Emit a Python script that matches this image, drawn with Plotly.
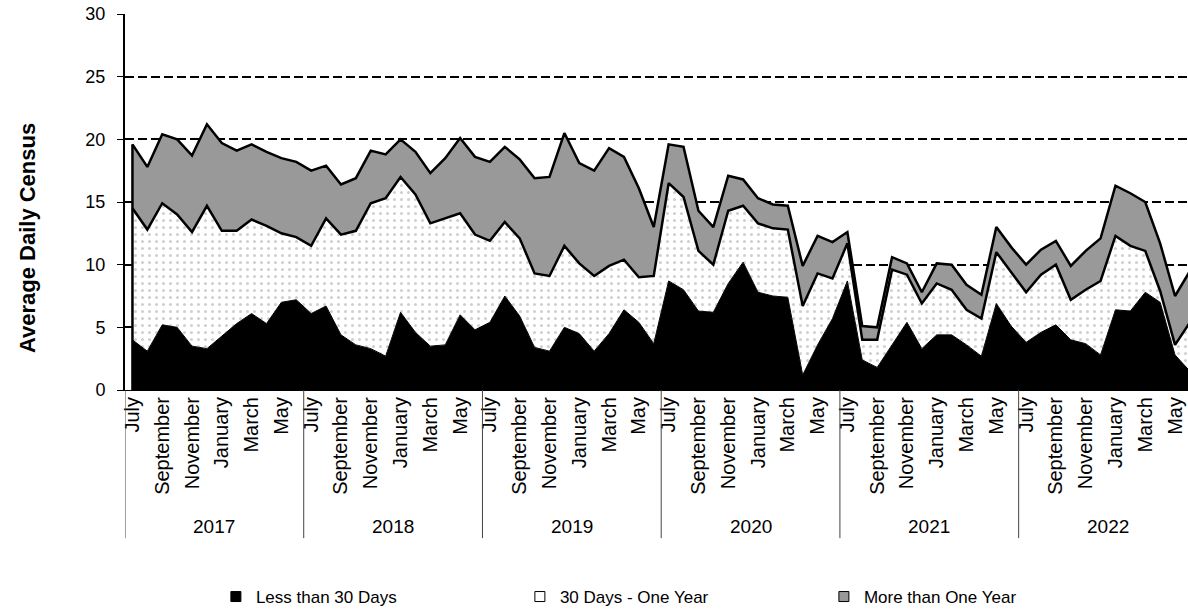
import plotly.graph_objects as go

years = ["2017", "2018", "2019", "2020", "2021", "2022"]
months = ["July", "August", "September", "October", "November", "December",
          "January", "February", "March", "April", "May", "June"]

# Average daily census by length of stay, July 2017 - June 2023
less_30 = [
    4.0, 3.1, 5.2, 5.0, 3.5, 3.3, 4.3, 5.3, 6.1, 5.3, 7.0, 7.2,
    6.1, 6.7, 4.4, 3.6, 3.3, 2.7, 6.2, 4.6, 3.5, 3.6, 6.0, 4.8,
    5.4, 7.5, 5.9, 3.4, 3.1, 5.0, 4.5, 3.1, 4.5, 6.4, 5.4, 3.7,
    8.7, 8.0, 6.3, 6.2, 8.5, 10.2, 7.8, 7.5, 7.4, 1.2, 3.6, 5.7,
    8.7, 2.4, 1.8, 3.6, 5.4, 3.3, 4.4, 4.4, 3.6, 2.7, 6.9, 5.1,
    3.8, 4.6, 5.2, 4.0, 3.7, 2.8, 6.4, 6.3, 7.8, 7.0, 2.8, 1.5]
days30_1yr = [
    10.5, 9.7, 9.7, 9.0, 9.1, 11.4, 8.4, 7.4, 7.5, 7.8, 5.5, 5.0,
    5.4, 7.0, 8.0, 9.1, 11.6, 12.6, 10.8, 11.0, 9.8, 10.1, 8.1, 7.6,
    6.5, 5.9, 6.2, 5.9, 6.0, 6.5, 5.6, 6.0, 5.4, 4.0, 3.6, 5.4,
    7.8, 7.4, 4.8, 3.8, 5.8, 4.5, 5.5, 5.4, 5.4, 5.5, 5.7, 3.2,
    3.0, 1.6, 2.2, 6.0, 3.8, 3.6, 4.1, 3.6, 2.8, 3.0, 4.1, 4.3,
    4.0, 4.6, 4.8, 3.2, 4.3, 5.9, 5.9, 5.2, 3.3, 0.9, 0.8, 3.9]
more_1yr = [
    5.1, 5.0, 5.5, 6.0, 6.1, 6.5, 7.0, 6.4, 6.0, 5.9, 6.0, 6.0,
    6.0, 4.2, 4.0, 4.2, 4.2, 3.5, 3.0, 3.4, 4.0, 4.8, 6.0, 6.2,
    6.3, 6.0, 6.3, 7.6, 7.9, 9.0, 8.0, 8.4, 9.4, 8.2, 7.1, 3.9,
    3.1, 4.0, 3.2, 3.0, 2.8, 2.1, 2.0, 1.9, 1.9, 3.2, 3.0, 2.9,
    0.9, 1.1, 1.0, 1.0, 0.9, 0.9, 1.6, 2.0, 2.0, 1.9, 2.0, 2.0,
    2.2, 2.0, 1.9, 2.7, 3.1, 3.4, 4.0, 4.2, 3.9, 3.8, 3.9, 4.1]

series_names = ["Less than 30 Days", "30 Days - One Year", "More than One Year"]

FONT = "Liberation Sans, Arial, sans-serif"
n = len(less_30)
x = list(range(n))
month_labels = [months[i % 12] for i in x]

fig = go.Figure()

fig.add_trace(go.Scatter(
    x=x, y=less_30, stackgroup="one", mode="lines",
    line=dict(color="black", width=1), fillcolor="black",
    showlegend=False, hoverinfo="skip"))
fig.add_trace(go.Scatter(
    x=x, y=days30_1yr, stackgroup="one", mode="lines",
    line=dict(color="black", width=2.5), fillcolor="white",
    fillpattern=dict(shape=".", fgcolor="#a0a0a0", bgcolor="white", size=7, solidity=0.15),
    showlegend=False, hoverinfo="skip"))
fig.add_trace(go.Scatter(
    x=x, y=more_1yr, stackgroup="one", mode="lines",
    line=dict(color="black", width=2.5), fillcolor="#999999",
    showlegend=False, hoverinfo="skip"))

# left border of the stacked areas
total0 = less_30[0] + days30_1yr[0] + more_1yr[0]
fig.add_trace(go.Scatter(x=[x[0], x[0]], y=[0, total0], mode="lines",
                         line=dict(color="black", width=2.5),
                         showlegend=False, hoverinfo="skip"))

# legend entries
for name, col in zip(series_names, ["black", "white", "#999999"]):
    fig.add_trace(go.Scatter(
        x=[None], y=[None], mode="markers", name=name,
        marker=dict(symbol="square", size=10, color=col, line=dict(color="black", width=1))))

# year group dividers and labels
for k, yr in enumerate(years):
    left = k * 12 - 0.5
    fig.add_shape(type="line", xref="x", yref="paper", x0=left, x1=left,
                  y0=0, y1=-0.394, line=dict(color="#444444", width=1))
    fig.add_annotation(x=k * 12 + 5.5, xref="x", y=-0.362, yref="paper",
                       text=yr, showarrow=False, yanchor="middle",
                       font=dict(family=FONT, size=19, color="black"))

fig.add_annotation(x=-0.0922, xref="paper", y=0.404, yref="paper",
                   text="<b>Average Daily Census</b>", textangle=-90,
                   showarrow=False, xanchor="center", yanchor="middle",
                   font=dict(family=FONT, size=22, color="black"))

fig.update_layout(
    width=1188, height=610, autosize=False,
    margin=dict(l=125, r=0, t=14, b=220, autoexpand=False),
    paper_bgcolor="white", plot_bgcolor="white",
    font=dict(family=FONT, color="black"),
    xaxis=dict(range=[-0.5, 70.87], tickmode="array",
               tickvals=x[::2], ticktext=month_labels[::2],
               tickangle=-90, tickfont=dict(size=20), ticklabelstandoff=-2,
               showgrid=False, zeroline=False, ticks="", automargin=False,
               showline=True, linecolor="black", linewidth=1),
    yaxis=dict(range=[0, 30], dtick=5, tickfont=dict(size=18), automargin=False,
               showgrid=True, gridcolor="black", gridwidth=2, griddash="9px,4px",
               zeroline=False, showline=True, linecolor="black", linewidth=2,
               ticks="outside", ticklen=6, tickcolor="black", tickwidth=1,
               ticklabelstandoff=8),
    legend=dict(orientation="h", x=0.0855, y=-0.5505, xanchor="left", yanchor="middle",
                entrywidth=259, entrywidthmode="pixels", font=dict(size=17),
                itemwidth=30, traceorder="normal", bgcolor="rgba(0,0,0,0)"),
    showlegend=True,
)

fig.write_html("out.html", config={"displayModeBar": False},
               post_script="document.body.style.margin='0px';")
